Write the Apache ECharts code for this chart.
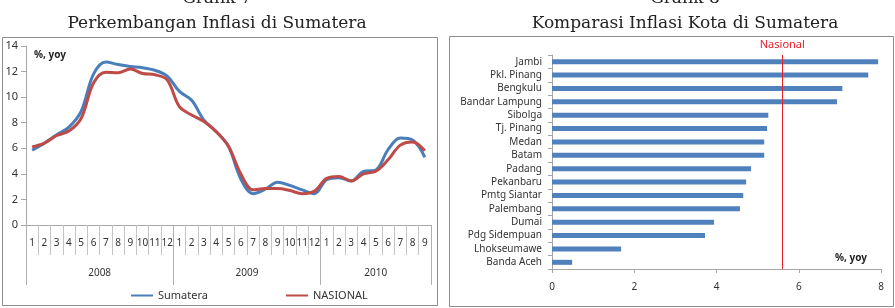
<!DOCTYPE html>
<html>
<head>
<meta charset="utf-8">
<script src="https://cdn.jsdelivr.net/npm/echarts@6/dist/echarts.min.js"></script>
<style>
  html, body { margin: 0; padding: 0; background: #fff; }
  #chart { width: 895px; height: 308px; }
</style>
</head>
<body>
<div id="chart"></div>
<script>
// Grafik 7 - inflasi bulanan (yoy)
const months = ['1','2','3','4','5','6','7','8','9','10','11','12',
  '1','2','3','4','5','6','7','8','9','10','11','12',
  '1','2','3','4','5','6','7','8','9'];
const years = ['2008', '2009', '2010'];
const sumatera = [5.85, 6.4, 7.05, 7.65, 8.9, 11.8, 12.75, 12.55, 12.4, 12.3, 12.1, 11.65,
  10.45, 9.75, 8.2, 7.3, 6.15, 3.6, 2.45, 2.8, 3.35, 3.1, 2.75, 2.45,
  3.55, 3.7, 3.45, 4.2, 4.3, 5.9, 6.8, 6.65, 5.3];
const nasional = [6.1, 6.4, 7.0, 7.35, 8.35, 11.1, 11.95, 11.9, 12.2, 11.85, 11.75, 11.35,
  9.25, 8.6, 8.1, 7.3, 6.15, 4.0, 2.75, 2.85, 2.85, 2.7, 2.45, 2.65,
  3.65, 3.8, 3.45, 4.0, 4.2, 5.1, 6.25, 6.5, 5.8];

// Grafik 8 - inflasi kota
const cities = ['Jambi', 'Pkl. Pinang', 'Bengkulu', 'Bandar Lampung', 'Sibolga', 'Tj. Pinang',
  'Medan', 'Batam', 'Padang', 'Pekanbaru', 'Pmtg Siantar', 'Palembang', 'Dumai',
  'Pdg Sidempuan', 'Lhokseumawe', 'Banda Aceh'];
const inflasiKota = [7.93, 7.69, 7.06, 6.93, 5.26, 5.23, 5.16, 5.16, 4.84, 4.72, 4.65, 4.57,
  3.94, 3.72, 1.68, 0.49];
const nasionalRate = 5.6;

const chart = echarts.init(document.getElementById('chart'));
const sans = 'Noto Sans';
const axisGray = '#a6a6a6';

// year label positions: middle of each year block, counted in months
const yearStarts = [0, 12, 24];
const yearLens = [12, 12, 9];
const yearMid = {};
years.forEach((y, i) => { yearMid[yearStarts[i] + yearLens[i] / 2] = y; });

const titleFont = { fontFamily: 'DejaVu Serif', fontSize: 17, fontWeight: 'normal', color: '#222' };

const option = {
  animation: false,
  textStyle: { fontFamily: sans },
  title: [
    { text: 'Grafik 7', left: 212, top: -15, textAlign: 'center', textStyle: titleFont },
    { text: 'Perkembangan Inflasi di Sumatera', left: 212, top: 10, textAlign: 'center', textStyle: titleFont },
    { text: 'Grafik 8', left: 680, top: -15, textAlign: 'center', textStyle: titleFont },
    { text: 'Komparasi Inflasi Kota di Sumatera', left: 680, top: 10, textAlign: 'center', textStyle: titleFont }
  ],
  graphic: [
    { type: 'rect', shape: { x: 2.5, y: 37.5, width: 435, height: 268 },
      style: { fill: 'none', stroke: '#8c8c8c', lineWidth: 1 }, z: -1 },
    { type: 'rect', shape: { x: 449.5, y: 36.5, width: 444, height: 270 },
      style: { fill: 'none', stroke: '#8c8c8c', lineWidth: 1 }, z: -1 }
  ],
  legend: {
    data: ['Sumatera', 'NASIONAL'],
    left: 126, top: 285,
    icon: 'rect', itemWidth: 22, itemHeight: 2, itemGap: 78,
    textStyle: { fontFamily: sans, fontSize: 11, color: '#333' }
  },
  grid: [
    { left: 26, right: 464, top: 46, bottom: 83 },
    { left: 552, right: 14, top: 55, bottom: 39 }
  ],
  xAxis: [
    { // months
      type: 'category', gridIndex: 0, data: months, position: 'bottom',
      axisLine: { show: true, lineStyle: { color: axisGray } },
      axisTick: { show: true, interval: 0, length: 30, lineStyle: { color: '#c4c4c4' } },
      axisLabel: { interval: 0, margin: 13, fontSize: 10, color: '#333' }
    },
    { // year separators
      type: 'category', gridIndex: 0, data: months, position: 'bottom',
      axisLine: { show: false },
      axisTick: { show: true, length: 60, interval: (i) => i % 12 === 0, lineStyle: { color: '#b0b0b0' } },
      axisLabel: { show: false }
    },
    { // year labels
      type: 'value', gridIndex: 0, min: 0, max: months.length, interval: 1.5, position: 'bottom',
      axisLine: { show: false }, axisTick: { show: false }, splitLine: { show: false },
      axisLabel: { margin: 43, fontSize: 10, color: '#333',
        formatter: (v) => yearMid[v] || '' }
    },
    { // city chart value axis
      type: 'value', gridIndex: 1, min: 0, max: 8, interval: 2,
      name: '%, yoy', nameLocation: 'end', nameGap: -46,
      nameTextStyle: { fontSize: 10, fontWeight: 'bold', color: '#222', verticalAlign: 'bottom', padding: [0, 0, 6, 0] },
      axisLine: { show: true, lineStyle: { color: axisGray } },
      axisTick: { show: true, length: 4, lineStyle: { color: axisGray } },
      splitLine: { show: false },
      axisLabel: { margin: 13, fontSize: 10, color: '#333' }
    }
  ],
  yAxis: [
    {
      type: 'value', gridIndex: 0, min: 0, max: 14, interval: 2,
      name: '%, yoy', nameLocation: 'end', nameGap: -14,
      nameTextStyle: { fontSize: 10, fontWeight: 'bold', color: '#222', align: 'left', padding: [0, 0, 0, 8] },
      axisLine: { show: true, lineStyle: { color: axisGray } },
      axisTick: { show: true, length: 5, lineStyle: { color: axisGray } },
      splitLine: { show: false },
      axisLabel: { margin: 8, fontSize: 11, color: '#333' }
    },
    {
      type: 'category', gridIndex: 1, data: cities, inverse: true,
      axisLine: { show: true, lineStyle: { color: axisGray } },
      axisTick: { show: true, length: 4, lineStyle: { color: axisGray } },
      axisLabel: { interval: 0, margin: 10, fontSize: 10, color: '#333' }
    }
  ],
  series: [
    {
      name: 'Sumatera', type: 'line', xAxisIndex: 0, yAxisIndex: 0,
      data: sumatera, smooth: 0.35, symbol: 'none',
      lineStyle: { width: 3, color: '#4a7ebb' }, itemStyle: { color: '#4a7ebb' }
    },
    {
      name: 'NASIONAL', type: 'line', xAxisIndex: 0, yAxisIndex: 0,
      data: nasional, smooth: 0.35, symbol: 'none',
      lineStyle: { width: 3, color: '#be4b48' }, itemStyle: { color: '#be4b48' }
    },
    {
      name: 'Kota', type: 'bar', xAxisIndex: 3, yAxisIndex: 1,
      data: inflasiKota, barWidth: 5,
      itemStyle: { color: '#4f81bd' },
      markLine: {
        silent: true, symbol: 'none',
        lineStyle: { color: '#e8202a', width: 1, type: 'solid' },
        label: { show: true, position: 'start', formatter: 'Nasional', color: '#e8202a',
          fontSize: 11, fontFamily: sans },
        data: [{ xAxis: nasionalRate }]
      }
    }
  ]
};

chart.setOption(option);
</script>
</body>
</html>
